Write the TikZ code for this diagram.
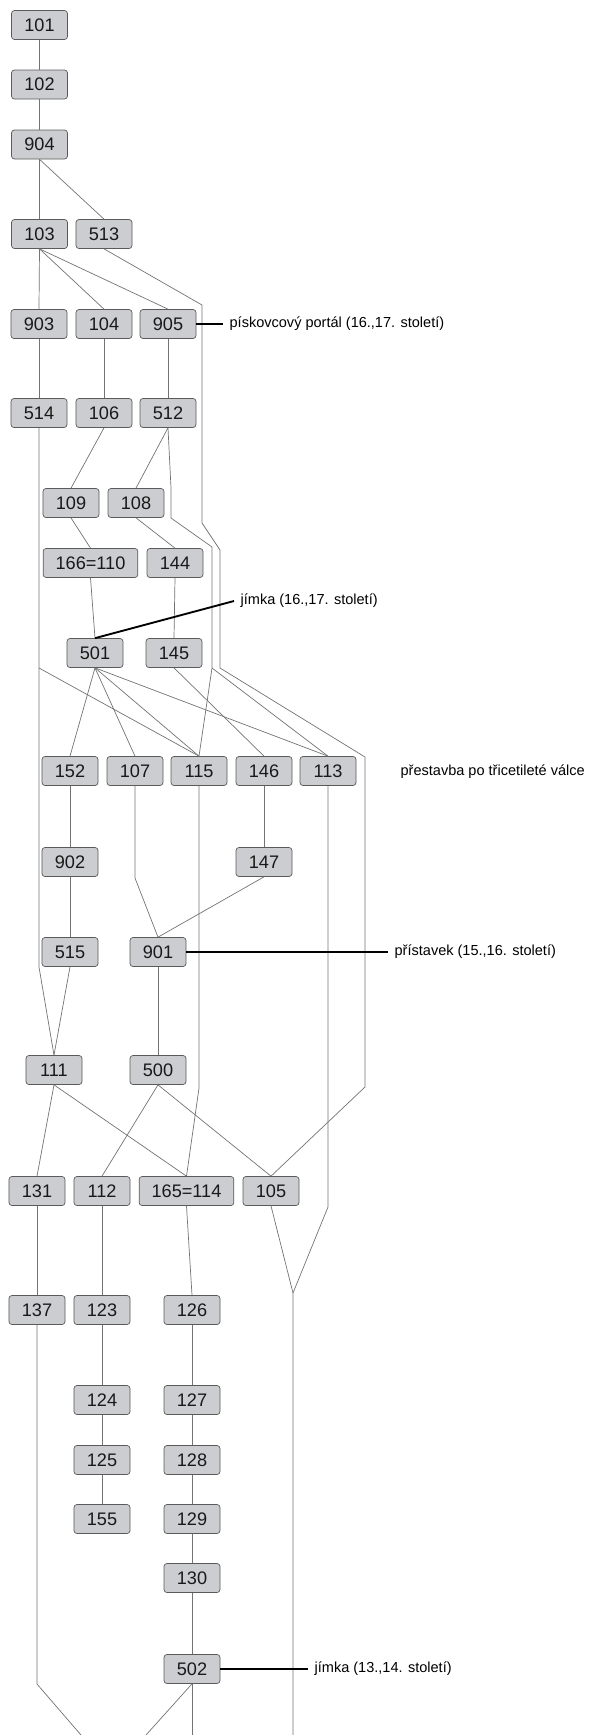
\documentclass[tikz,border=0pt]{standalone}
\usepackage{fontspec}
\setmainfont{Liberation Sans}
\definecolor{boxfill}{RGB}{203,205,208}
\definecolor{boxline}{RGB}{90,90,90}
\definecolor{linkgray}{RGB}{115,115,115}
\begin{document}
\begin{tikzpicture}[x = 0.03cm, y = -0.03cm,
    su/.style = {draw = boxline, fill = boxfill, line width = 0.6pt, rounded corners = 2.5pt, minimum width = 1.68cm, minimum height = 0.87cm, inner sep = 0pt, text = black!90, font = \fontsize{15.5}{17}\selectfont},
    wide/.style = {su, minimum width = 2.84cm},
    link/.style = {draw = linkgray, line width = 0.6pt},
    note/.style = {draw = black, line width = 1.6pt},
    lbl/.style = {anchor = west, inner sep = 0pt, outer xsep = 0.2cm, font = \fontsize{12.4}{14}\selectfont}]
    \useasboundingbox (0,0) rectangle (589,1735);
    % units
    \node [su] (n101) at (39.5,25) {101};
    \node [su] (n102) at (39.5,84.5) {102};
    \node [su] (n904) at (39.5,144.5) {904};
    \node [su] (n103) at (39.5,234) {103};
    \node [su] (n513) at (104,234) {513};
    \node [su] (n903) at (39,324) {903};
    \node [su] (n104) at (104,324) {104};
    \node [su] (n905) at (168,324) {905};
    \node [su] (n514) at (39,413) {514};
    \node [su] (n106) at (104,413) {106};
    \node [su] (n512) at (168,413) {512};
    \node [su] (n109) at (71,503) {109};
    \node [su] (n108) at (136,503) {108};
    \node [wide] (n110) at (90.5,563) {166=110};
    \node [su] (n144) at (175,563) {144};
    \node [su] (n501) at (95,653) {501};
    \node [su] (n145) at (174,653) {145};
    \node [su] (n152) at (70,771) {152};
    \node [su] (n107) at (135,771) {107};
    \node [su] (n115) at (199,771) {115};
    \node [su] (n146) at (264,771) {146};
    \node [su] (n113) at (328,771) {113};
    \node [su] (n902) at (70,862) {902};
    \node [su] (n147) at (264,862) {147};
    \node [su] (n515) at (70,952) {515};
    \node [su] (n901) at (158,952) {901};
    \node [su] (n111) at (54,1070) {111};
    \node [su] (n500) at (158,1070) {500};
    \node [su] (n131) at (37,1191) {131};
    \node [su] (n112) at (102,1191) {112};
    \node [wide] (n114) at (186.5,1191) {165=114};
    \node [su] (n105) at (271,1191) {105};
    \node [su] (n137) at (37,1310) {137};
    \node [su] (n123) at (102,1310) {123};
    \node [su] (n126) at (192,1310) {126};
    \node [su] (n124) at (102,1400) {124};
    \node [su] (n127) at (192,1400) {127};
    \node [su] (n125) at (102,1460) {125};
    \node [su] (n128) at (192,1460) {128};
    \node [su] (n155) at (102,1519) {155};
    \node [su] (n129) at (192,1519) {129};
    \node [su] (n130) at (192,1578) {130};
    \node [su] (n502) at (192,1669) {502};
    % direct links
    \foreach \a/\b in {n101/n102, n102/n904, n904/n103, n904/n513, n103/n903, n103/n104, n103/n905,
        n903/n514, n104/n106, n905/n512, n106/n109, n512/n108, n109/n110, n108/n144, n110/n501,
        n144/n145, n501/n152, n501/n107, n501/n115, n501/n113, n145/n146, n152/n902, n146/n147,
        n902/n515, n147/n901, n515/n111, n901/n500, n111/n131, n111/n114, n500/n112, n500/n105,
        n131/n137, n112/n123, n114/n126, n123/n124, n126/n127, n124/n125, n127/n128, n125/n155,
        n128/n129, n129/n130, n130/n502}
        \draw [link] (\a.south) -- (\b.north);
    % long links
    \coordinate (fork512) at (212,668);
    \coordinate (fork514) at (n514.south |- 0,668);
    \coordinate (merge) at (293,1293);
    \coordinate (endA) at (81,1735);
    \coordinate (endB) at (146,1735);
    \coordinate (endC) at (n502.south |- 0,1735);
    \coordinate (endD) at (293,1735);
    \draw [link] (n513.south) -- (202,305) -- (202,523) -- (220,550) -- (220,668) -- (365,757) -- (365,1087) -- (n105.north);
    \draw [link] (n512.south) -- (171,488) -- (171,518) -- (212,547) -- (fork512) -- (n115.north);
    \draw [link] (fork512) -- (n113.north);
    \draw [link] (n514.south) -- (n514.south |- 0,967) -- (n111.north);
    \draw [link] (fork514) -- (n115.north);
    \draw [link] (n107.south) -- (n107.south |- 0,878) -- (n901.north);
    \draw [link] (n115.south) -- (n115.south |- 0,1088) -- (n114.north);
    \draw [link] (n113.south) -- (n113.south |- 0,1207) -- (merge) -- (endD);
    \draw [link] (n105.south) -- (merge);
    \draw [link] (n137.south) -- (n137.south |- 0,1684) -- (endA);
    \draw [link] (n502.south) -- (endB);
    \draw [link] (n502.south) -- (endC);
    % notes
    \node [lbl] (portal) at (223,324) {pískovcový portál (16.,17. století)};
    \node [lbl] (jimkaA) at (234,601) {jímka (16.,17. století)};
    \node [lbl] (prestavba) at (394,772) {přestavba po třicetileté válce};
    \node [lbl] (pristavek) at (388,952) {přístavek (15.,16. století)};
    \node [lbl] (jimkaB) at (308,1669) {jímka (13.,14. století)};
    \draw [note] (n905.east) -- (portal.west);
    \draw [note] (n501.north) -- (jimkaA.west);
    \draw [note] (n901.east) -- (pristavek.west);
    \draw [note] (n502.east) -- (jimkaB.west);
\end{tikzpicture}
\end{document}
